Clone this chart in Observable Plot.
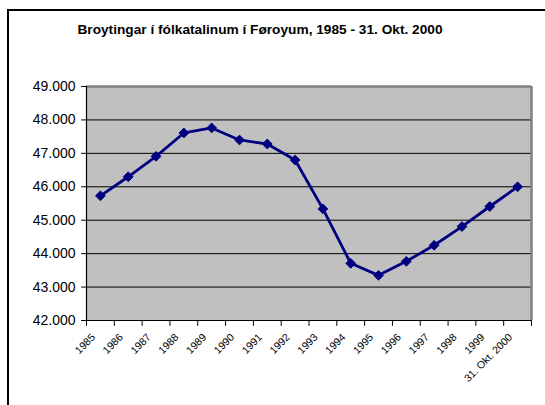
<!DOCTYPE html>
<html>
<head>
<meta charset="utf-8">
<script src="https://cdn.jsdelivr.net/npm/d3@7"></script>
<script src="https://cdn.jsdelivr.net/npm/@observablehq/plot@0.6"></script>
<style>
  html, body { margin: 0; padding: 0; background: #fff; }
  #wrap { position: relative; width: 545px; height: 405px; overflow: hidden; }
  #border { position: absolute; left: 7px; top: 9px; width: 600px; height: 500px; border-left: 2px solid #000; border-top: 2px solid #000; box-sizing: border-box; }
  #title { position: absolute; left: 0; width: 520px; top: 22px; text-align: center; font: bold 13.7px Arial, "Liberation Sans", sans-serif; color: #000; }
  #chart { position: absolute; left: 0; top: 0; }
</style>
</head>
<body>
<div id="wrap">
  <div id="border"></div>
  <div id="title">Broytingar í fólkatalinum í Føroyum, 1985 - 31. Okt. 2000</div>
  <div id="chart"></div>
</div>
<script>
const categories = ["1985","1986","1987","1988","1989","1990","1991","1992","1993","1994","1995","1996","1997","1998","1999","31. Okt. 2000"];
const population = [45730, 46300, 46910, 47610, 47760, 47400, 47280, 46800, 45340, 43710, 43350, 43770, 44250, 44810, 45410, 46000];
const yTicks = [42000, 43000, 44000, 45000, 46000, 47000, 48000, 49000];

const data = categories.map((c, i) => ({label: c, pos: i + 0.5, value: population[i]}));
const edges = d3.range(0, categories.length + 1);
const fmt = d => d3.format(",")(d).replace(/,/g, ".");
const font = "Arial, 'Liberation Sans', sans-serif";
const n = categories.length;
const tickShape = {draw(context, l) { context.moveTo(0, 0); context.lineTo(0, -l); }};

const chart = Plot.plot({
  width: 545,
  height: 405,
  marginTop: 86,
  marginBottom: 85,
  marginLeft: 86,
  marginRight: 14,
  style: {background: "transparent", fontFamily: font},
  x: {type: "linear", domain: [0, n], axis: null},
  y: {type: "linear", domain: [42000, 49000], axis: null},
  marks: [
    Plot.rect([0], {x1: () => 0, x2: () => n, y1: () => 42000, y2: () => 49000, fill: "#c0c0c0"}),
    Plot.ruleY(yTicks.slice(1, -1), {y: d => d, stroke: "#000", strokeWidth: 1}),
    Plot.ruleY([49000], {y: d => d, stroke: "#808080", strokeWidth: 2.5}),
    Plot.ruleX([n], {x: d => d, stroke: "#808080", strokeWidth: 2.5}),
    Plot.ruleX([0], {x: d => d, stroke: "#000", strokeWidth: 1.2}),
    Plot.ruleY([42000], {y: d => d, stroke: "#000", strokeWidth: 1.2}),
    Plot.vector(yTicks, {y: d => d, x: () => 0, length: 5, rotate: -90, anchor: "start", shape: tickShape, stroke: "#000", strokeWidth: 1}),
    Plot.text(yTicks, {y: d => d, x: () => 0, text: fmt, textAnchor: "end", dx: -11, fontSize: 14, fill: "#000"}),
    Plot.vector(edges, {x: d => d, y: () => 42000, length: 5, rotate: 180, anchor: "start", shape: tickShape, stroke: "#000", strokeWidth: 1}),
    Plot.text(data, {x: "pos", y: () => 42000, text: "label", rotate: -45, textAnchor: "end", dy: 15, dx: -7, fontSize: 10.5, fill: "#000"}),
    Plot.line(data, {x: "pos", y: "value", stroke: "#000080", strokeWidth: 2.8}),
    Plot.dot(data, {x: "pos", y: "value", symbol: "diamond2", r: 4.4, fill: "#000080", stroke: "#000080", strokeWidth: 1})
  ]
});
document.getElementById("chart").appendChild(chart);
</script>
</body>
</html>
